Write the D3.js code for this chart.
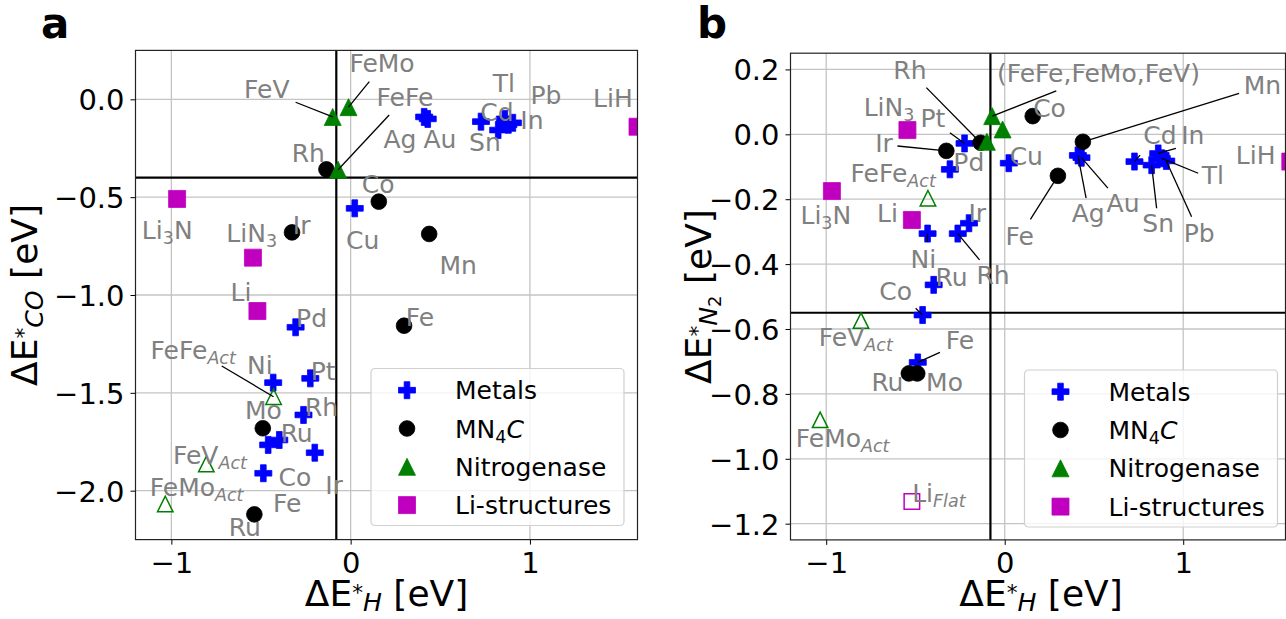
<!DOCTYPE html>
<html>
<head>
<meta charset="utf-8">
<script src="https://d3js.org/d3.v7.min.js"></script>
<style>
  body { margin: 0; background: #fff; }
  text { font-family: "DejaVu Sans", sans-serif; }
</style>
</head>
<body>
<svg id="fig" width="1286" height="619"></svg>
<script>
// ---- data ----
const metalNames = ["Ag", "Au", "Cd", "In", "Tl", "Sn", "Pb", "Cu", "Pd", "Pt", "Ni", "Rh", "Ru", "Co", "Ir", "Fe"];
const metalH  = [0.41, 0.43, 0.727, 0.86, 0.88, 0.823, 0.905, 0.023, -0.307, -0.225, -0.432, -0.263, -0.398, -0.46, -0.2, -0.487];
const metalCO = [-0.09, -0.10, -0.114, -0.10, -0.13, -0.157, -0.12, -0.557, -1.165, -1.426, -1.448, -1.613, -1.741, -1.766, -1.806, -1.911];
const metalN2 = [-0.065, -0.072, -0.084, -0.059, -0.074, -0.095, -0.082, -0.089, -0.108, -0.028, -0.306, -0.306, -0.464, -0.557, -0.274, -0.703];

const mnNames = ["Rh", "Co", "Ir", "Mn", "Fe", "Mo", "Ru"];
const mnH  = [-0.135, 0.157, -0.327, 0.438, 0.298, -0.49, -0.537];
const mnCO = [-0.358, -0.523, -0.68, -0.688, -1.157, -1.681, -2.121];
const mnN2 = [-0.026, 0.056, -0.051, -0.023, -0.128, -0.737, -0.737];

const nitroNames = ["FeFe", "FeMo", "FeV", "FeFe_Act", "FeV_Act", "FeMo_Act"];
const nitroH  = [-0.07, -0.012, -0.1, -0.43, -0.805, -1.034];
const nitroCO = [-0.36, -0.04, -0.09, -1.52, -1.864, -2.068];
const nitroN2 = [0.056, 0.015, -0.023, -0.197, -0.574, -0.88];

const liNames = ["LiH", "Li3N", "LiN3", "Li", "Li_Flat"];
const liH  = [1.6, -0.968, -0.545, -0.52, -0.52];
const liCO = [-0.14, -0.509, -0.809, -1.082, null];
const liN2 = [-0.084, -0.175, 0.013, -0.264, -1.132];

const xTicks = [-1, 0, 1];
const coTicks = [0, -0.5, -1, -1.5, -2];
const n2Ticks = [0.2, 0, -0.2, -0.4, -0.6, -0.8, -1.0, -1.2];
const hLimit = -0.08, coLimit = -0.4, n2Limit = -0.55;

const legendNames = ["Metals", "MN_{4}C", "Nitrogenase", "Li-structures"];

// annotations: text, text position, optional leader start, leader target [group, name]
const labelsCO = [
  {t: "FeMo", x: 0.175, y: 0.185, from: [0.104, 0.09], to: ["nitro", "FeMo"]},
  {t: "FeV", x: -0.468, y: 0.053, from: [-0.307, -0.015], to: ["nitro", "FeV"]},
  {t: "FeFe", x: 0.303, y: 0.013, from: [0.215, -0.08], to: ["nitro", "FeFe"]},
  {t: "Ag", x: 0.275, y: -0.203}, {t: "Au", x: 0.498, y: -0.203},
  {t: "Rh", x: -0.236, y: -0.273}, {t: "Co", x: 0.154, y: -0.433},
  {t: "LiH", x: 1.463, y: 0.007},
  {t: "Li_{3}N", x: -1.023, y: -0.668}, {t: "LiN_{3}", x: -0.552, y: -0.685},
  {t: "Ir", x: -0.273, y: -0.642}, {t: "Cu", x: 0.067, y: -0.719},
  {t: "Mn", x: 0.6, y: -0.847}, {t: "Li", x: -0.612, y: -0.983},
  {t: "Pd", x: -0.218, y: -1.119}, {t: "Fe", x: 0.387, y: -1.111},
  {t: "FeFe_{Act}", x: -0.878, y: -1.281, from: [-0.719, -1.363], to: ["nitro", "FeFe_Act"]},
  {t: "Ni", x: -0.506, y: -1.358}, {t: "Pt", x: -0.153, y: -1.387},
  {t: "Mo", x: -0.487, y: -1.588}, {t: "Rh", x: -0.162, y: -1.571},
  {t: "Ru", x: -0.301, y: -1.707}, {t: "FeV_{Act}", x: -0.785, y: -1.818},
  {t: "Co", x: -0.311, y: -1.928}, {t: "Ir", x: -0.093, y: -1.971},
  {t: "FeMo_{Act}", x: -0.859, y: -1.98}, {t: "Fe", x: -0.354, y: -2.064},
  {t: "Ru", x: -0.59, y: -2.184},
  {t: "Tl", x: 0.855, y: 0.083}, {t: "Pb", x: 1.089, y: 0.022},
  {t: "Cd", x: 0.816, y: -0.065}, {t: "In", x: 1.011, y: -0.106},
  {t: "Sn", x: 0.749, y: -0.218}
];

const labelsN2 = [
  {t: "Rh", x: -0.531, y: 0.198, from: [-0.439, 0.144], to: ["mn4c", "Rh"]},
  {t: "(FeFe,FeMo,FeV)", x: 0.525, y: 0.19, from: [0.289, 0.134], to: ["nitro", "FeFe"]},
  {t: "Mn", x: 1.444, y: 0.152, from: [1.313, 0.126], to: ["mn4c", "Mn"]},
  {t: "Co", x: 0.251, y: 0.08},
  {t: "LiN_{3}", x: -0.648, y: 0.085},
  {t: "Pt", x: -0.402, y: 0.049, from: [-0.307, 0.005], to: ["metals", "Pt"]},
  {t: "Ir", x: -0.676, y: -0.028, from: [-0.601, -0.036], to: ["mn4c", "Ir"]},
  {t: "Pd", x: -0.201, y: -0.084}, {t: "Cu", x: 0.121, y: -0.067},
  {t: "FeFe_{Act}", x: -0.625, y: -0.12},
  {t: "LiH", x: 1.406, y: -0.064},
  {t: "Li_{3}N", x: -1.002, y: -0.249}, {t: "Li", x: -0.657, y: -0.243},
  {t: "Ir", x: -0.154, y: -0.243},
  {t: "Fe", x: 0.084, y: -0.313, from: [0.144, -0.262], to: ["mn4c", "Fe"]},
  {t: "Ag", x: 0.468, y: -0.243, from: [0.456, -0.197], to: ["metals", "Ag"]},
  {t: "Au", x: 0.663, y: -0.212, from: [0.578, -0.166], to: ["metals", "Au"]},
  {t: "Sn", x: 0.86, y: -0.274, from: [0.851, -0.228], to: ["metals", "Sn"]},
  {t: "Pb", x: 1.089, y: -0.303, from: [1.047, -0.254], to: ["metals", "Pb"]},
  {t: "Cd", x: 0.87, y: -0.002, from: [0.758, -0.064], to: ["metals", "Cd"]},
  {t: "In", x: 1.054, y: -0.002, from: [0.959, -0.043], to: ["metals", "In"]},
  {t: "Tl", x: 1.166, y: -0.125, from: [1.084, -0.12], to: ["metals", "Tl"]},
  {t: "Ni", x: -0.456, y: -0.385, from: [-0.434, -0.331], to: ["metals", "Ni"]},
  {t: "Rh", x: -0.065, y: -0.434, from: [-0.141, -0.387], to: ["metals", "Rh"]},
  {t: "Ru", x: -0.298, y: -0.439},
  {t: "Co", x: -0.611, y: -0.482, from: [-0.499, -0.536], to: ["metals", "Co"]},
  {t: "FeV_{Act}", x: -0.834, y: -0.624},
  {t: "Fe", x: -0.251, y: -0.634, from: [-0.363, -0.672], to: ["metals", "Fe"]},
  {t: "Ru", x: -0.657, y: -0.762}, {t: "Mo", x: -0.337, y: -0.762},
  {t: "FeMo_{Act}", x: -0.908, y: -0.937},
  {t: "Li_{Flat}", x: -0.369, y: -1.106}
];

// ---- helpers ----
const svg = d3.select("#fig");
const GREY = "#808080";

const groups = [
  {key: "metals", names: metalNames, h: metalH, co: metalCO, n2: metalN2, shape: "plus", color: "#0000ff"},
  {key: "mn4c", names: mnNames, h: mnH, co: mnCO, n2: mnN2, shape: "circle", color: "#000000"},
  {key: "nitro", names: nitroNames, h: nitroH, co: nitroCO, n2: nitroN2, shape: "tri", color: "#008000"},
  {key: "li", names: liNames, h: liH, co: liCO, n2: liN2, shape: "square", color: "#bf00bf"}
];

function markerPath(shape, s) {
  const h = s / 2;
  if (shape === "plus") {
    const a = s / 6;
    return `M${-a},${-h}H${a}V${-a}H${h}V${a}H${a}V${h}H${-a}V${a}H${-h}V${-a}H${-a}Z`;
  }
  if (shape === "tri") return `M0,${-h}L${h},${h}L${-h},${h}Z`;
  if (shape === "square") return `M${-h},${-h}H${h}V${h}H${-h}Z`;
  return d3.symbol(d3.symbolCircle, Math.PI * h * h)();
}
const markerSize = {plus: 17, circle: 15.7, tri: 17, square: 17};

function rich(sel, str, F) {
  const parts = str.split(/(_\{[^}]*\})/).filter(p => p.length);
  let shift = 0;
  parts.forEach(p => {
    const t = sel.append("tspan");
    if (p.startsWith("_{")) {
      const s = p.slice(2, -1);
      t.text(s).attr("font-size", F * 0.7).attr("dy", 0.2 * F - shift);
      shift = 0.2 * F;
      if (/[A-Za-z]/.test(s)) t.attr("font-style", "italic");
    } else {
      t.text(p).attr("dy", -shift);
      shift = 0;
    }
  });
}

function mathTitle(sel, pieces, F) {
  pieces.forEach(([s, k, dy, it]) => {
    const t = sel.append("tspan").text(s).attr("font-size", F * k).attr("dy", dy * F);
    if (it) t.attr("font-style", "italic");
  });
}

function panel(cfg) {
  const g = svg.append("g");
  const x = d3.scaleLinear().domain(cfg.xDomain).range(cfg.xRange);
  const y = d3.scaleLinear().domain(cfg.yDomain).range(cfg.yRange);
  const [x0, x1] = cfg.xRange, [y1, y0] = cfg.yRange;

  const clipId = "clip-" + cfg.id;
  g.append("clipPath").attr("id", clipId)
    .append("rect").attr("x", x0).attr("y", y0).attr("width", x1 - x0).attr("height", y1 - y0);

  // grid
  g.append("g").selectAll("line").data(xTicks).join("line")
    .attr("x1", d => x(d)).attr("x2", d => x(d)).attr("y1", y0).attr("y2", y1)
    .attr("stroke", "#c4c4c4").attr("stroke-width", 1.3);
  g.append("g").selectAll("line").data(cfg.yTicks).join("line")
    .attr("x1", x0).attr("x2", x1).attr("y1", d => y(d)).attr("y2", d => y(d))
    .attr("stroke", "#c4c4c4").attr("stroke-width", 1.3);

  // threshold lines
  g.append("line").attr("x1", x(hLimit)).attr("x2", x(hLimit)).attr("y1", y0).attr("y2", y1)
    .attr("stroke", "#000").attr("stroke-width", 2.2);
  g.append("line").attr("x1", x0).attr("x2", x1).attr("y1", y(cfg.limit)).attr("y2", y(cfg.limit))
    .attr("stroke", "#000").attr("stroke-width", 2.2);

  // points
  const pts = g.append("g").attr("clip-path", `url(#${clipId})`);
  const lookup = {};
  groups.forEach(gr => {
    const vals = gr[cfg.field];
    const data = gr.names.map((n, i) => ({name: n, h: gr.h[i], v: vals[i]})).filter(d => d.v !== null);
    data.forEach(d => { lookup[gr.key + ":" + d.name] = d; });
    pts.append("g").selectAll("path").data(data).join("path")
      .attr("transform", d => `translate(${x(d.h)},${y(d.v)})`)
      .attr("d", d => {
        const open = d.name.includes("_");
        return markerPath(gr.shape, open ? markerSize[gr.shape] - 1.5 : markerSize[gr.shape]);
      })
      .attr("fill", d => d.name.includes("_") ? "none" : gr.color)
      .attr("stroke", gr.color)
      .attr("stroke-width", d => d.name.includes("_") ? 1.5 : 0.8);
  });

  // leader lines
  g.append("g").selectAll("line").data(cfg.labels.filter(l => l.from)).join("line")
    .attr("x1", l => x(l.from[0])).attr("y1", l => y(l.from[1]))
    .attr("x2", l => x(lookup[l.to[0] + ":" + l.to[1]].h))
    .attr("y2", l => y(lookup[l.to[0] + ":" + l.to[1]].v))
    .attr("stroke", "#000").attr("stroke-width", 1.3);

  // labels
  const F = 25;
  g.append("g").selectAll("text").data(cfg.labels).join("text")
    .attr("x", l => x(l.x)).attr("y", l => y(l.y) + 0.36 * F)
    .attr("text-anchor", "middle").attr("font-size", F).attr("fill", GREY)
    .each(function (l) { rich(d3.select(this), l.t, F); });

  // axes
  g.append("g").attr("transform", `translate(0,${y1})`)
    .call(d3.axisBottom(x).tickValues(xTicks).tickFormat(d3.format("d")).tickSize(5).tickPadding(8))
    .call(a => a.select(".domain").remove())
    .attr("font-size", 29).attr("font-family", "DejaVu Sans, sans-serif");
  g.append("g").attr("transform", `translate(${x0},0)`)
    .call(d3.axisLeft(y).tickValues(cfg.yTicks).tickFormat(d3.format(".1f")).tickSize(5).tickPadding(6))
    .call(a => a.select(".domain").remove())
    .call(a => a.selectAll("text").attr("dy", "0.36em"))
    .attr("font-size", 29).attr("font-family", "DejaVu Sans, sans-serif");

  // frame
  g.append("rect").attr("x", x0).attr("y", y0).attr("width", x1 - x0).attr("height", y1 - y0)
    .attr("fill", "none").attr("stroke", "#222").attr("stroke-width", 1.2);

  // titles
  const TF = 36;
  const xt = g.append("text").attr("x", cfg.xTitleX).attr("y", 606).attr("text-anchor", "middle");
  mathTitle(xt, [["ΔE", 1, 0], ["*", 0.6, -0.17], ["H", 0.7, 0.3, true], [" [eV]", 1, -0.13]], TF);
  const yt = g.append("text").attr("text-anchor", "middle")
    .attr("transform", `translate(${cfg.yTitleX},${(y0 + y1) / 2}) rotate(-90)`);
  mathTitle(yt, cfg.yTitle, TF);
  g.append("text").attr("x", cfg.letterX).attr("y", 38).attr("font-size", 42)
    .attr("font-weight", "bold").text(cfg.id);

  // legend
  const lg = g.append("g").attr("transform", `translate(${cfg.legendX},${cfg.legendY})`);
  lg.append("rect").attr("width", 253).attr("height", 157).attr("rx", 4)
    .attr("fill", "#fff").attr("fill-opacity", 0.8).attr("stroke", "#d0d0d0").attr("stroke-width", 1.2);
  groups.forEach((gr, i) => {
    const ry = 21.7 + i * 38.3;
    lg.append("path").attr("transform", `translate(36,${ry})`)
      .attr("d", markerPath(gr.shape, markerSize[gr.shape]))
      .attr("fill", gr.color).attr("stroke", gr.color).attr("stroke-width", 0.8);
    const t = lg.append("text").attr("x", 84).attr("y", ry + 9).attr("font-size", 25).attr("fill", "#000");
    if (i === 1) {
      t.append("tspan").text("MN");
      t.append("tspan").text("4").attr("font-size", 17.5).attr("dy", 5);
      t.append("tspan").text("C").attr("font-style", "italic").attr("dy", -5);
    } else {
      t.text(legendNames[i]);
    }
  });
}

panel({
  id: "a", field: "co", xDomain: [-1.2, 1.6], xRange: [135.5, 637.5],
  yDomain: [-2.25, 0.25], yRange: [539.6, 50.4], yTicks: coTicks, limit: coLimit,
  labels: labelsCO, xTitleX: 386.5, yTitleX: 37, letterX: 41, legendX: 371, legendY: 368.5,
  yTitle: [["ΔE", 1, 0], ["*", 0.6, -0.17], ["CO", 0.7, 0.33, true], [" [eV]", 1, -0.16]]
});
panel({
  id: "b", field: "n2", xDomain: [-1.2, 1.573], xRange: [790.5, 1285.5],
  yDomain: [-1.25, 0.25], yRange: [539.9, 53.2], yTicks: n2Ticks, limit: n2Limit,
  labels: labelsN2, xTitleX: 1041, yTitleX: 711, letterX: 697, legendX: 1024.5, legendY: 370,
  yTitle: [["ΔE", 1, 0], ["*", 0.6, -0.17], ["N", 0.7, 0.33, true], ["2", 0.5, 0.12], [" [eV]", 1, -0.28]]
});
</script>
</body>
</html>
